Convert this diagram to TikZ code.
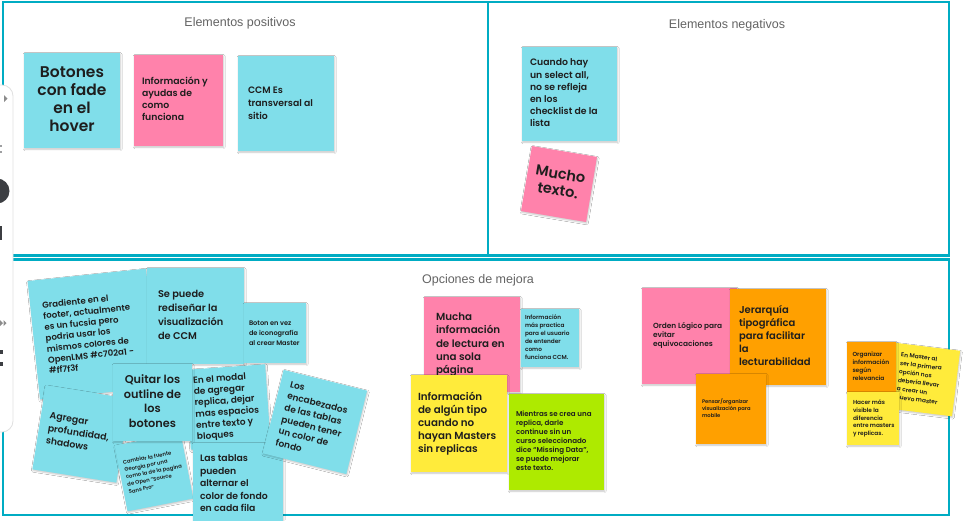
\documentclass[tikz,border=0pt]{standalone}
\usepackage{fontspec}
\setmainfont{Liberation Sans}
\newfontfamily\notefont{Poppins SemiBold}
\newfontfamily\titlefont{Liberation Sans}
\usetikzlibrary{shadows.blur}

\definecolor{framec}{RGB}{0,172,195}
\definecolor{titlec}{RGB}{100,100,100}
\definecolor{inkc}{RGB}{30,30,30}
\definecolor{cyanc}{RGB}{128,222,234}
\definecolor{pinkc}{RGB}{255,130,171}
\definecolor{yellowc}{RGB}{255,235,59}
\definecolor{limec}{RGB}{174,234,0}
\definecolor{orangec}{RGB}{255,160,0}
\definecolor{toolc}{RGB}{60,62,66}

% font size / line spacing inside a sticky note
\newcommand\nfs[2]{\fontsize{#1}{#2}\selectfont}
% left-aligned block of lines in a box of fixed width (lines never rewrap)
\newcommand\stickytext[2]{\makebox[#1pt][l]{\begin{tabular}{@{}l@{}}#2\end{tabular}}}
% centred block of lines
\newcommand\stickycentre[1]{\begin{tabular}{@{}c@{}}#1\end{tabular}}

\tikzset{
  panel/.style={draw=framec, line width=2.6pt},
  paneltitle/.style={font=\titlefont\fontsize{12.5}{14}\selectfont, text=titlec, inner sep=0pt},
  sticky/.style={rectangle, inner sep=0pt, text=inkc, font=\notefont,
    blur shadow={shadow xshift=0.6pt, shadow yshift=-1.2pt, shadow blur radius=1.6pt, shadow opacity=22}},
}

\begin{document}
\begin{tikzpicture}[x=1pt, y=-1pt]
\useasboundingbox (0,0) rectangle (965,520);
\fill[white] (0,0) rectangle (965,520);

% board panels
\draw[panel] (3,2) rectangle (488,255.5);
\draw[panel] (488,2) rectangle (949,255.5);
\draw[panel] (3,259.5) rectangle (949,515);

\node[paneltitle] (tpos) at (240,23) {Elementos positivos};
\node[paneltitle] (tneg) at (727,25) {Elementos negativos};
\node[paneltitle] (tmej) at (478,280) {Opciones de mejora};

% --- positive elements
\node[sticky, fill=cyanc, minimum width=96, minimum height=95] (n1) at (72,100.5)
  {\nfs{15.5}{18}\stickycentre{Botones\\con fade\\en el\\hover}};
\node[sticky, fill=pinkc, minimum width=89, minimum height=91] (n2) at (178.5,100.5)
  {\nfs{9.3}{12}\stickytext{73}{Información y\\ayudas de\\como\\funciona}};
\node[sticky, fill=cyanc, minimum width=96, minimum height=95] (n3) at (286,103.5)
  {\nfs{9.3}{13}\stickytext{76}{CCM Es\\transversal al\\sitio}};

% --- negative elements
\node[sticky, fill=cyanc, minimum width=95, minimum height=94] (n4) at (569.5,94)
  {\nfs{9.3}{12.2}\stickytext{79}{Cuando hay\\un select all,\\no se refleja\\en los\\checklist de la\\lista}};
\node[sticky, fill=pinkc, minimum width=66, minimum height=66, rotate=-9.5] (n5) at (559,184)
  {\nfs{14.5}{16.5}\stickycentre{Mucho\\texto.}};

% --- improvement options, left group
\node[sticky, fill=cyanc, minimum width=119, minimum height=119, rotate=6] (n6) at (93,334)
  {\nfs{8.6}{11}\stickytext{95}{Gradiente en el\\footer, actualmente\\es un fucsia pero\\podria usar los\\mismos colores de\\OpenLMS \#c702a1 -\\\#ff7f3f}};
\node[sticky, fill=cyanc, minimum width=85, minimum height=85, rotate=-9] (n10) at (81,434)
  {\nfs{9.3}{12.5}\stickytext{67}{Agregar\\profundidad,\\shadows}};
\node[sticky, fill=cyanc, minimum width=67, minimum height=67, rotate=11] (n11) at (154,472)
  {\nfs{5.3}{7.5}\stickytext{57}{Cambiar la fuente\\Georgia por una\\como la de la pagina\\de Open “Source\\Sans Pro”}};
\node[sticky, fill=cyanc, minimum width=97, minimum height=96] (n7) at (195.5,316)
  {\nfs{9.8}{14}\stickytext{75}{Se puede\\rediseñar la\\visualización\\de CCM}};
\node[sticky, fill=cyanc, minimum width=62, minimum height=60] (n8) at (275,333)
  {\nfs{6.6}{10}\stickytext{52}{Boton en vez\\de iconografía\\al crear Master}};
\node[sticky, fill=cyanc, minimum width=80, minimum height=80, rotate=4] (n12) at (228,407)
  {\nfs{9}{11.3}\stickytext{66}{En el modal\\de agregar\\replica, dejar\\mas espacios\\entre texto y\\bloques}};
\node[sticky, fill=cyanc, minimum width=79, minimum height=77] (n9) at (152.5,402.5)
  {\nfs{11.3}{14.5}\stickycentre{Quitar los\\outline de\\los\\botones}};
\node[sticky, fill=cyanc, minimum width=90, minimum height=82] (n13) at (238,484)
  {\nfs{9.3}{12.5}\stickytext{76}{Las tablas\\pueden\\alternar el\\color de fondo\\en cada fila}};
\node[sticky, fill=cyanc, minimum width=86, minimum height=86, rotate=-14] (n14) at (315,422)
  {\nfs{9}{12}\stickytext{66}{Los\\encabezados\\de las tablas\\pueden tener\\un color de\\fondo}};

% --- improvement options, middle group
\node[sticky, fill=pinkc, minimum width=96, minimum height=95] (n15) at (472,344.5)
  {\nfs{10.3}{13.3}\stickytext{72}{Mucha\\información\\de lectura en\\una sola\\página}};
\node[sticky, fill=cyanc, minimum width=58, minimum height=58] (n16) at (550,338)
  {\nfs{5.8}{8}\stickytext{50}{Información\\más practica\\para el usuario\\de entender\\como\\funciona CCM.}};
\node[sticky, fill=yellowc, minimum width=96, minimum height=97] (n17) at (459,423.5)
  {\nfs{10.3}{13}\stickytext{82}{Información\\de algún tipo\\cuando no\\hayan Masters\\sin replicas}};
\node[sticky, fill=limec, minimum width=95, minimum height=96] (n18) at (556.5,442)
  {\nfs{7.1}{9}\stickytext{81}{Mientras se crea una\\replica, darle\\continue sin un\\curso seleccionado\\dice “Missing Data”,\\se puede mejorar\\este texto.}};

% --- improvement options, right group
\node[sticky, fill=pinkc, minimum width=95, minimum height=96] (n19) at (689.5,336)
  {\nfs{7.4}{9}\stickytext{73}{Orden Lógico para\\evitar\\equivocaciones}};
\node[sticky, fill=orangec, minimum width=96, minimum height=96] (n20) at (778,337)
  {\nfs{10}{12.8}\stickytext{78}{Jerarquía\\tipográfica\\para facilitar\\la\\lecturabilidad}};
\node[sticky, fill=orangec, minimum width=70, minimum height=70] (n21) at (731,409)
  {\nfs{5.2}{7}\stickytext{58}{Pensar/organizar\\visualización para\\mobile}};
\node[sticky, fill=yellowc, minimum width=66, minimum height=66, rotate=-7] (n24) at (923.3,379.5)
  {\nfs{5.9}{8.6}\stickytext{50}{En Master al\\ser la primera\\opción nos\\debería llevar\\a crear un\\nuevo master}};
\node[sticky, fill=orangec, minimum width=49, minimum height=50] (n22) at (871.5,367)
  {\nfs{5.9}{7.8}\stickytext{38}{Organizar\\información\\según\\relevancia}};
\node[sticky, fill=yellowc, minimum width=52, minimum height=53] (n23) at (873,418.5)
  {\nfs{5.8}{7.6}\stickytext{40}{Hacer más\\visible la\\diferencia\\entre masters\\y replicas.}};

% floating tool bar on the left edge
\draw[draw=black!12, fill=white, line width=0.8pt, rounded corners=11pt] (-20,85) rectangle (13,432);
\fill[black!45] (4,95) -- (7.5,98.5) -- (4,102) -- cycle;
\fill[toolc] (1,146) circle (0.9) (1,152) circle (0.9);
\fill[toolc] (-3,191) circle (12.5);
\fill[toolc] (0,226) rectangle (1.8,240);
\fill[black!45] (0,320) -- (3,323) -- (0,326) -- cycle;
\fill[black!45] (3.5,320) -- (6.5,323) -- (3.5,326) -- cycle;
\fill[toolc] (0,350) rectangle (2.5,354);
\fill[toolc] (0,362) rectangle (2.5,366);
\end{tikzpicture}
\end{document}
